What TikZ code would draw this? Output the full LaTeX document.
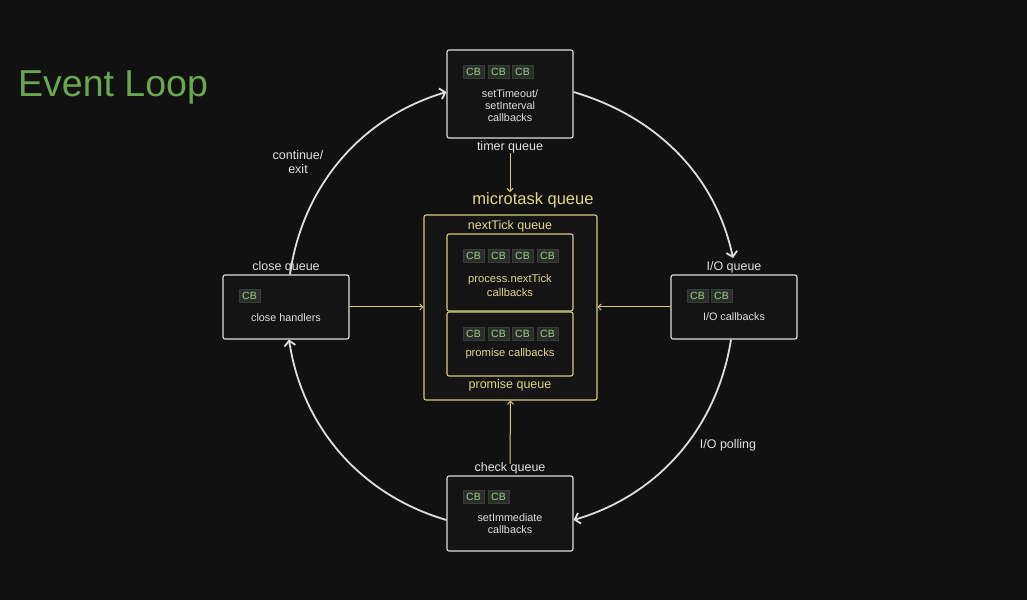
\documentclass[tikz,border=0pt]{standalone}
\usepackage{fontspec}
\setmainfont{Liberation Sans}
\usetikzlibrary{arrows.meta}
\definecolor{bg}{RGB}{17,17,17}
\definecolor{boxfill}{RGB}{20,20,20}
\definecolor{boxline}{RGB}{222,222,222}
\definecolor{txt}{RGB}{225,225,225}
\definecolor{ylw}{RGB}{214,205,128}
\definecolor{ytxt}{RGB}{224,214,136}
\definecolor{chipbg}{RGB}{42,46,42}
\definecolor{chipline}{RGB}{56,62,54}
\definecolor{chipgreen}{RGB}{155,205,135}
\definecolor{title}{RGB}{106,168,79}
\begin{document}
\begin{tikzpicture}[x=1pt,y=1pt,
  box/.style={draw=boxline, fill=boxfill, line width=1.1pt, rounded corners=2pt,
    minimum width=126pt, inner sep=0pt},
  ybox/.style={draw=ylw, fill=boxfill, line width=1.1pt, rounded corners=2pt,
    minimum width=126pt, inner sep=0pt},
  chip/.style={fill=chipbg, draw=chipline, line width=0.4pt, text=chipgreen,
    font=\fontsize{10.5}{11}\selectfont, minimum width=21pt, minimum height=13pt, inner sep=0pt},
  lbl/.style={text=txt, font=\fontsize{12.5}{14}\selectfont, inner sep=0pt},
  ylbl/.style={text=ytxt, font=\fontsize{12.5}{14}\selectfont, inner sep=0pt},
  intxt/.style={text=txt, font=\fontsize{10.8}{12}\selectfont, align=center, inner sep=0pt},
  yintxt/.style={text=ytxt, font=\fontsize{11.2}{14}\selectfont, align=center, inner sep=0pt},
  loop/.style={draw=boxline, line width=1.8pt, -{Straight Barb[length=5pt,width=11pt]}, looseness=0.95},
  feed/.style={draw=ylw, line width=1pt, -{Straight Barb[length=3pt,width=6pt]}}
]
\useasboundingbox (0,0) rectangle (1027,600);
\fill[bg] (0,0) rectangle (1027,600);

% title
\node[text=title, font=\fontsize{37.5}{40}\selectfont, anchor=west, inner sep=0pt] (ttl) at (18,513) {Event Loop};

% microtask queue container
\node[text=ytxt, font=\fontsize{16.5}{18}\selectfont, inner sep=0pt] (microlbl) at (533,400) {microtask queue};
\node[ybox, minimum width=173pt, minimum height=185pt] (micro) at (510.5,292.5) {};
\node[ybox, minimum height=77pt] (ntick) at (510,327.5) {};
\node[ybox, minimum height=64pt] (prom) at (510,256) {};
\node[ylbl] (ntq) at (510,374) {nextTick queue};
\node[ylbl] (pq) at (510,215) {promise queue};
\foreach \i/\x in {1/473.5,2/498.5,3/522.5,4/547.5}{
  \node[chip] (nt\i) at (\x,344) {CB};
  \node[chip] (pr\i) at (\x,266) {CB};
}
\node[yintxt] (nttxt) at (510,315) {process.nextTick\\callbacks};
\node[yintxt] (prtxt) at (510,246) {promise callbacks};

% timer queue
\node[box, minimum height=88pt] (timer) at (510,506) {};
\foreach \i/\x in {1/473.5,2/498.5,3/522.5}{ \node[chip] (tm\i) at (\x,528) {CB}; }
\node[intxt] (tmtxt) at (510,494.5) {setTimeout/\\setInterval\\callbacks};
\node[lbl] (timerq) at (510,453) {timer queue};

% close queue
\node[box, minimum height=64pt] (close) at (286,293) {};
\node[chip] (cl1) at (249.5,304) {CB};
\node[intxt] (cltxt) at (286,282) {close handlers};
\node[lbl] (closeq) at (286,333) {close queue};

% I/O queue
\node[box, minimum height=64pt] (io) at (734,293) {};
\node[chip] (io1) at (697.5,304) {CB};
\node[chip] (io2) at (721.5,304) {CB};
\node[intxt] (iotxt) at (734,283) {I/O callbacks};
\node[lbl] (ioq) at (734,333) {I/O queue};

% check queue
\node[box, minimum height=75pt] (check) at (510,86.5) {};
\node[chip] (ck1) at (473.5,103) {CB};
\node[chip] (ck2) at (498.5,103) {CB};
\node[intxt] (cktxt) at (510,76.5) {setImmediate\\callbacks};
\node[lbl] (checkq) at (510,132) {check queue};

% edge labels
\node[lbl, align=center, font=\fontsize{12.5}{14}\selectfont] (contlbl) at (298,438) {continue/\\exit};
\node[lbl] (polllbl) at (728,155) {I/O polling};

% the loop
\coordinate (ioin) at (733,342);
\draw[loop] ([yshift=2pt]timer.east) to[out=-16.5, in=102] (ioin);
\draw[loop] ([xshift=-3pt]io.south) to[out=-99, in=16.3] ([yshift=-6.5pt]check.east);
\draw[loop] ([yshift=-6.5pt]check.west) to[out=163.7, in=-81.4] ([xshift=3pt]close.south);
\draw[loop] ([xshift=4pt]close.north) to[out=82, in=-163.5] ([yshift=2pt]timer.west);

% feeds into the microtask queue
\draw[feed] (timerq.south) -- (timerq.south |- microlbl.north);
\draw[feed] (close.east) -- (close.east -| micro.west);
\draw[feed] (io.west) -- (io.west -| micro.east);
\draw[feed] ([yshift=-2pt]checkq.north) -- (micro.south);
\end{tikzpicture}
\end{document}
